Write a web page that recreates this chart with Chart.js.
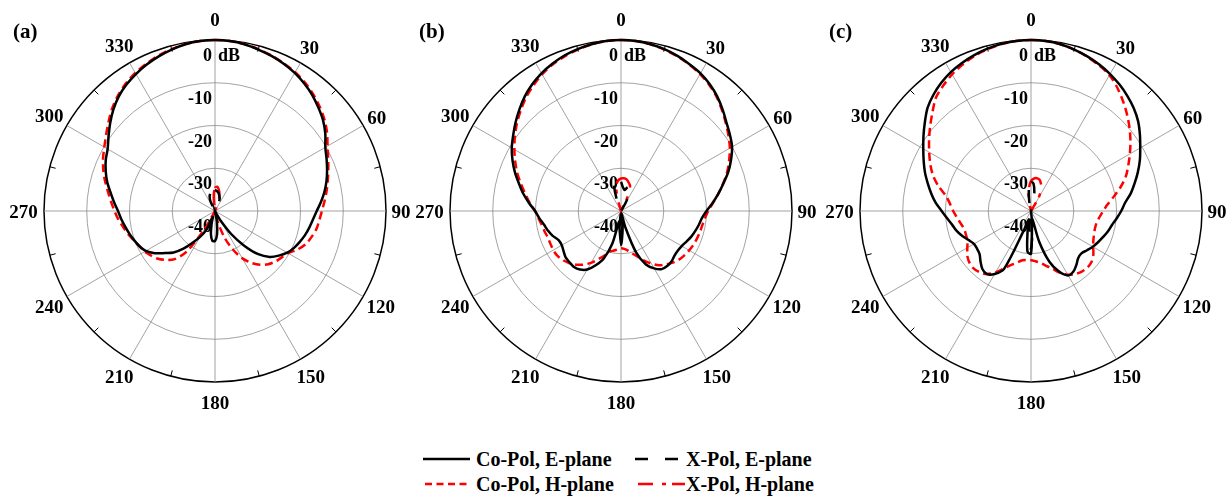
<!DOCTYPE html>
<html><head><meta charset="utf-8">
<script src="https://cdn.jsdelivr.net/npm/chart.js@4.4.1/dist/chart.umd.min.js"></script>
<style>
html,body{margin:0;padding:0;background:#fff;}
body{width:1230px;height:496px;overflow:hidden;position:relative;font-family:"Liberation Serif","Times New Roman",serif;}
.pc{position:absolute;top:0;width:450px;height:430px;}
.lt{position:absolute;font-weight:bold;font-size:20px;line-height:20px;white-space:nowrap;color:#000;}
.ls{position:absolute;}
</style></head><body>
<div class="pc" style="left:-10px"><canvas id="ca"></canvas></div>
<div class="pc" style="left:396px"><canvas id="cb"></canvas></div>
<div class="pc" style="left:806px"><canvas id="cc"></canvas></div>

<svg class="ls" style="left:421px;top:454px" width="52" height="10"><line x1="2" y1="5" x2="49" y2="5" stroke="#000" stroke-width="2.5"/></svg>
<div class="lt" style="left:476px;top:449px">Co-Pol, E-plane</div>
<svg class="ls" style="left:633px;top:454px" width="50" height="10"><line x1="2" y1="5" x2="46" y2="5" stroke="#000" stroke-width="2.5" stroke-dasharray="13 17"/></svg>
<div class="lt" style="left:686px;top:449px">X-Pol, E-plane</div>
<svg class="ls" style="left:423px;top:479px" width="50" height="10"><line x1="2" y1="5" x2="47" y2="5" stroke="#ff0000" stroke-width="2.5" stroke-dasharray="7 4.5"/></svg>
<div class="lt" style="left:476px;top:474px">Co-Pol, H-plane</div>
<svg class="ls" style="left:636px;top:479px" width="50" height="10"><line x1="2" y1="5" x2="49" y2="5" stroke="#ff0000" stroke-width="2.5" stroke-dasharray="15 9 4 6"/></svg>
<div class="lt" style="left:686px;top:474px">X-Pol, H-plane</div>

<script>
// ---- categories (angle in degrees, every 5°) ----
const angleLabels = [0,5,10,15,20,25,30,35,40,45,50,55,60,65,70,75,80,85,90,95,100,105,110,115,
  120,125,130,135,140,145,150,155,160,165,170,175,180,185,190,195,200,205,210,215,220,225,230,235,
  240,245,250,255,260,265,270,275,280,285,290,295,300,305,310,315,320,325,330,335,340,345,350,355];
// ---- tick labels ----
const angleTickLabels = [0,30,60,90,120,150,180,210,240,270,300,330];
const radialTickLabels = [0,-10,-20,-30,-40];
const seriesNames = ['Co-Pol, E-plane','X-Pol, E-plane','Co-Pol, H-plane','X-Pol, H-plane'];

// ---- panel (a) ----
const coE_a = [0,-0.1,-0.4,-0.9,-1.4,-2.0,-2.7,-3.6,-4.6,-5.8,-7.0,-8.5,
 -10.2,-11.2,-12.1,-13.0,-14.0,-15.1,-16.2,-17.0,-17.6,-18.2,-18.9,-19.6,
 -20.5,-21.8,-23.3,-25.7,-29.5,-33.5,-37.5,-39.5,-40,-40,-37.5,-34.5,
 -33,-33,-34.5,-37,-38.5,-35,-33,-31,-28.5,-26.3,-24.7,-22.8,
 -21.3,-20.5,-19.9,-19.3,-18.7,-18.0,-17.3,-16.3,-15.2,-13.9,-12.8,-11.8,
 -11.0,-9.6,-8.0,-6.4,-5.0,-3.9,-3.0,-2.2,-1.5,-0.9,-0.4,-0.1];
const xE_a = [-35.1,-35.3,-35.6,-36.2,-36.8,-38,-40,-40,-40,-40,-40,-40,
 -40,-40,-40,-40,-40,-40,-40,-40,-40,-40,-40,-40,
 -40,-40,-40,-40,-40,-40,-40,-40,-40,-40,-40,-40,
 -40,-40,-40,-40,-40,-40,-40,-40,-40,-40,-40,-40,
 -40,-40,-40,-40,-40,-40,-40,-40,-40,-40,-40,-40,
 -40,-40,-40,-40,-40,-40,-40,-37.5,-36.3,-35.8,-35.3,-35.1];
const coH_a = [0,-0.1,-0.35,-0.8,-1.3,-1.9,-2.5,-3.3,-4.3,-5.4,-6.6,-8.0,
 -9.6,-10.8,-11.8,-12.7,-13.5,-14.3,-15.0,-15.5,-15.9,-16.6,-17.4,-18.7,
 -20.3,-21.0,-21.6,-22.4,-23.6,-25.2,-27.2,-30.0,-33.2,-37,-40,-40,
 -40,-40,-40,-40,-40,-40,-35,-28.3,-25.3,-23.8,-22.6,-21.8,
 -21.0,-20.5,-19.8,-19.0,-18.2,-17.3,-16.5,-15.6,-14.6,-13.4,-12.2,-11.1,
 -10.1,-8.9,-7.5,-6.0,-4.7,-3.6,-2.7,-2.0,-1.3,-0.8,-0.35,-0.1];
const xH_a = [-34.6,-34.3,-34.9,-36,-37.8,-40,-40,-40,-40,-40,-40,-40,
 -40,-40,-40,-40,-40,-40,-40,-40,-40,-40,-40,-40,
 -40,-40,-40,-40,-40,-40,-40,-40,-40,-40,-40,-40,
 -40,-40,-40,-40,-40,-40,-40,-40,-40,-40,-40,-40,
 -40,-40,-40,-40,-40,-40,-40,-40,-40,-40,-40,-40,
 -40,-40,-40,-40,-40,-40,-40,-40,-40,-40,-40,-36.5];

// ---- panel (b) ----
const coE_b = [0,-0.1,-0.4,-0.8,-1.4,-2.1,-2.8,-3.8,-5.0,-6.4,-7.8,-8.9,
 -10.0,-11.6,-13.3,-15.2,-16.9,-18.5,-20.0,-21.0,-21.5,-22.0,-22.5,-23.1,
 -23.6,-23.8,-23.7,-23.3,-23.2,-23.4,-24.5,-26.2,-29.7,-36,-39.5,-36,
 -32,-36,-37.5,-32,-28.2,-26,-24.2,-23.3,-22.9,-23.0,-23.1,-23.6,
 -24.0,-23.9,-23.0,-22.3,-21.7,-20.8,-19.9,-18.4,-16.8,-15.3,-13.6,-12.0,
 -10.5,-9.2,-7.8,-6.4,-5.0,-3.8,-2.8,-2.0,-1.3,-0.8,-0.4,-0.1];
const xE_b = [-33.2,-34.5,-35,-34.3,-33.8,-35,-38,-40,-40,-40,-40,-40,
 -40,-40,-40,-40,-40,-40,-40,-40,-40,-40,-40,-40,
 -40,-40,-40,-40,-40,-40,-40,-40,-40,-40,-40,-36.5,
 -33,-36.5,-40,-40,-40,-40,-40,-40,-40,-40,-40,-40,
 -40,-40,-40,-40,-40,-40,-40,-40,-40,-40,-40,-40,
 -40,-40,-40,-40,-40,-40,-40,-40,-37,-33.5,-32.3,-32.4];
const coH_b = [0,-0.1,-0.4,-0.9,-1.5,-2.2,-3.0,-4.0,-5.2,-6.6,-8.0,-9.3,
 -10.6,-12.1,-13.6,-15.3,-16.9,-18.4,-19.6,-20.3,-20.7,-20.9,-21.1,-21.3,
 -21.6,-21.9,-22.3,-22.9,-23.7,-24.5,-25.8,-27.2,-28.6,-29.7,-30.6,-31.1,
 -31.3,-31.0,-30.6,-30.2,-29.0,-27.6,-26.0,-24.7,-23.6,-22.8,-22.2,-21.8,
 -21.7,-21.8,-21.8,-21.5,-21.2,-20.6,-19.9,-18.6,-17.3,-15.8,-14.2,-12.7,
 -11.2,-9.7,-8.2,-6.8,-5.4,-4.2,-3.1,-2.2,-1.5,-0.9,-0.4,-0.1];
const xH_b = [-32.4,-32.3,-32.5,-33.1,-33.8,-36.5,-40,-40,-40,-40,-40,-40,
 -40,-40,-40,-40,-40,-40,-40,-40,-40,-40,-40,-40,
 -40,-40,-40,-40,-40,-40,-40,-40,-40,-40,-40,-40,
 -40,-40,-40,-40,-40,-40,-40,-40,-40,-40,-40,-40,
 -40,-40,-40,-40,-40,-40,-40,-40,-40,-40,-40,-40,
 -40,-40,-40,-40,-40,-40,-40,-40,-40,-36.5,-33.8,-32.8];

// ---- panel (c) ----
const coE_c = [0,-0.1,-0.4,-0.9,-1.5,-2.2,-3.0,-3.9,-4.9,-6.0,-7.3,-8.9,
 -10.5,-11.9,-13.4,-14.9,-16.3,-17.9,-18.9,-19.9,-20.8,-21.4,-22.1,-22.7,
 -23.3,-24.0,-24.6,-24.4,-23.5,-22.7,-22.6,-24.3,-27.3,-32.5,-38,-37,
 -30,-30.5,-35.5,-38,-35.5,-25,-23.0,-22.0,-22.3,-23.3,-24.3,-24.6,
 -24.6,-23.9,-22.9,-22.0,-21.3,-20.3,-19.1,-17.6,-16.3,-15.0,-13.6,-12.3,
 -10.9,-9.3,-7.6,-5.8,-4.5,-3.4,-2.5,-1.8,-1.2,-0.7,-0.3,-0.1];
const xE_c = [-33.3,-33.5,-35.5,-38.5,-40,-40,-40,-40,-40,-40,-40,-40,
 -40,-40,-40,-40,-40,-40,-40,-40,-40,-40,-40,-40,
 -40,-40,-40,-40,-40,-40,-40,-40,-40,-40,-40,-36,
 -31,-36,-40,-40,-40,-40,-40,-40,-40,-40,-40,-40,
 -40,-40,-40,-40,-40,-40,-40,-40,-40,-40,-40,-40,
 -40,-40,-40,-40,-40,-40,-40,-40,-40,-40,-37.5,-34.5];
const coH_c = [0,-0.1,-0.4,-0.9,-1.6,-2.4,-3.3,-4.8,-6.5,-8.2,-9.9,-11.6,
 -13.3,-14.9,-16.4,-18.3,-20.3,-22.0,-23.1,-23.9,-24.4,-24.5,-24.3,-23.9,
 -23.2,-22.2,-21.5,-21.3,-21.5,-22.0,-22.8,-24.1,-25.7,-26.8,-27.7,-28.2,
 -28.5,-28.5,-28.3,-27.5,-26.6,-25.2,-23.4,-22.0,-21.3,-21.0,-21.2,-21.8,
 -22.8,-23.6,-23.8,-23.8,-23.3,-22.6,-21.8,-21.0,-19.8,-17.6,-15.6,-14.0,
 -12.5,-10.9,-9.2,-7.4,-5.4,-4.2,-3.1,-2.2,-1.4,-0.8,-0.35,-0.1];
const xH_c = [-33,-32.4,-32.2,-32.4,-33.2,-34.3,-36.5,-40,-40,-40,-40,-40,
 -40,-40,-40,-40,-40,-40,-40,-40,-40,-40,-40,-40,
 -40,-40,-40,-40,-40,-40,-40,-40,-40,-40,-40,-40,
 -40,-40,-40,-40,-40,-40,-40,-40,-40,-40,-40,-40,
 -40,-40,-40,-40,-40,-40,-40,-40,-40,-40,-40,-40,
 -40,-40,-40,-40,-40,-40,-40,-40,-40,-40,-37,-34.5];

Chart.defaults.font.family = '"Liberation Serif", "Times New Roman", serif';

const decor = {
  id: 'decor',
  beforeDatasetsDraw(chart) {
    const s = chart.scales.r, ctx = chart.ctx;
    ctx.save();
    ctx.fillStyle = '#000';
    ctx.font = 'bold 18px "Liberation Serif"';
    ctx.textBaseline = 'alphabetic';
    radialTickLabels.forEach(v => {
      const y = s.yCenter - s.getDistanceFromCenterForValue(v) + 21;
      if (v === 0) {
        ctx.textAlign = 'right'; ctx.fillText('0', s.xCenter - 3, y);
        ctx.textAlign = 'left'; ctx.fillText('dB', s.xCenter + 3, y);
      } else {
        ctx.textAlign = 'right'; ctx.fillText(String(v), s.xCenter - 3, y);
      }
    });
    ctx.restore();
  },
  afterDraw(chart, args, opts) {
    const s = chart.scales.r, ctx = chart.ctx;
    ctx.save();
    // minor ticks on the outer circle
    ctx.strokeStyle = '#000'; ctx.lineWidth = 1;
    angleLabels.forEach((a, i) => {
      if (a % 30 === 15) {
        const p1 = s.getPointPosition(i, s.drawingArea);
        const p2 = s.getPointPosition(i, s.drawingArea - 6);
        ctx.beginPath(); ctx.moveTo(p1.x, p1.y); ctx.lineTo(p2.x, p2.y); ctx.stroke();
      }
    });
    // angle labels
    ctx.fillStyle = '#000';
    ctx.font = 'bold 19px "Liberation Serif"';
    ctx.textAlign = 'center'; ctx.textBaseline = 'alphabetic';
    angleTickLabels.forEach(a => {
      const i = angleLabels.indexOf(a);
      const sn = Math.abs(Math.sin(a * Math.PI / 180));
      const gap = (a > 0 && a < 100) ? 21 - 6 * sn : 20.5;
      const p = s.getPointPosition(i, s.drawingArea + gap);
      ctx.fillText(String(a), p.x, p.y + 6.5);
    });
    // panel letter
    ctx.font = 'bold 21px "Liberation Serif"';
    ctx.textAlign = 'left';
    ctx.fillText(opts.letter, s.xCenter - 202, 38);
    ctx.restore();
  }
};

function makeChart(id, series, letter) {
  const styles = [
    {borderColor:'#000000', borderDash:[]},
    {borderColor:'#000000', borderDash:[13,16]},
    {borderColor:'#ff0000', borderDash:[8,4.5]},
    {borderColor:'#ff0000', borderDash:[15,9,4,6]}
  ];
  return new Chart(document.getElementById(id), {
    type: 'radar',
    data: {
      labels: angleLabels,
      datasets: series.map((d, k) => Object.assign({
        label: seriesNames[k], data: d, borderWidth: 2.5, pointRadius: 0,
        fill: false, tension: 0.3, backgroundColor: 'rgba(0,0,0,0)'
      }, styles[k]))
    },
    options: {
      responsive: true, maintainAspectRatio: false, animation: false, events: [],
      layout: {padding: {left: 54, right: 54, top: 40, bottom: 48}},
      plugins: {legend: {display: false}, tooltip: {enabled: false}, decor: {letter: letter}},
      scales: {
        r: {
          min: -40, max: 0, startAngle: 0,
          ticks: {display: false, stepSize: 10},
          pointLabels: {display: false},
          grid: {
            circular: true,
            color: c => (c.tick && c.tick.value === 0) ? '#000000' : '#8c8c8c',
            lineWidth: c => (c.tick && c.tick.value === 0) ? 1.5 : 0.8
          },
          angleLines: {
            color: '#8c8c8c',
            lineWidth: c => (angleLabels[c.index] % 30 === 0) ? 0.8 : 0
          }
        }
      }
    },
    plugins: [decor]
  });
}

makeChart('ca', [coE_a, xE_a, coH_a, xH_a], '(a)');
makeChart('cb', [coE_b, xE_b, coH_b, xH_b], '(b)');
makeChart('cc', [coE_c, xE_c, coH_c, xH_c], '(c)');
</script>
</body></html>
